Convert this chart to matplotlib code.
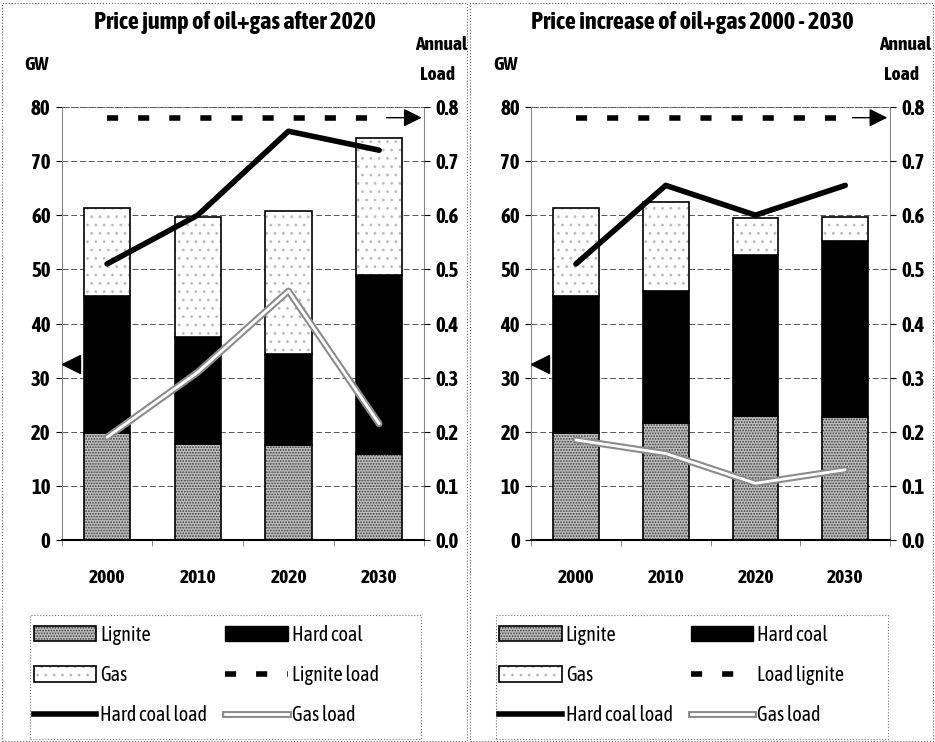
import matplotlib
matplotlib.use("Agg")
import matplotlib.pyplot as plt
import matplotlib.patheffects as pe
from matplotlib import font_manager
from matplotlib.patches import Rectangle, Patch
from matplotlib.lines import Line2D
import numpy as np

# narrow font with a bold face if one is around, else Liberation Sans
fl = font_manager.fontManager.ttflist
narrow = sorted({f.name for f in fl
                 if ('Narrow' in f.name or 'Condensed' in f.name)
                 and 'Mono' not in f.name and 'Serif' not in f.name
                 and any(g.name == f.name and g.weight in (600, 700, 'bold', 'semibold') for g in fl)})
plt.rcParams['font.family'] = narrow[:1] + ['Liberation Sans', 'DejaVu Sans']
plt.rcParams['hatch.linewidth'] = 0.8

years = ['2000', '2010', '2020', '2030']

# left panel: price jump after 2020 (GW)
titleA = "Price jump of oil+gas after 2020"
ligniteA = [19.7, 17.8, 17.5, 16.0]
hardcoalA = [25.3, 19.7, 16.8, 33.0]
gasA = [16.3, 22.2, 26.5, 25.2]
lignite_loadA = [0.78, 0.78, 0.78, 0.78]
hardcoal_loadA = [0.51, 0.60, 0.755, 0.72]
gas_loadA = [0.19, 0.31, 0.46, 0.215]
legendA = ['Lignite', 'Hard coal', 'Gas', 'Lignite load', 'Hard coal load', 'Gas load']

# right panel: steady price increase
titleB = "Price increase of oil+gas 2000 - 2030"
ligniteB = [19.7, 21.6, 23.0, 22.7]
hardcoalB = [25.3, 24.4, 29.6, 32.6]
gasB = [16.3, 16.5, 6.9, 4.3]
lignite_loadB = [0.78, 0.78, 0.78, 0.78]
hardcoal_loadB = [0.51, 0.655, 0.60, 0.655]
gas_loadB = [0.185, 0.16, 0.105, 0.13]
legendB = ['Lignite', 'Hard coal', 'Gas', 'Load lignite', 'Hard coal load', 'Gas load']


def gasline_fx():
    return [pe.Stroke(linewidth=5, foreground='#8c8c8c'), pe.Normal()]


def panel(fig, rect, title, lig, hc, gas, l_load, h_load, g_load, labels, tx, ax_lbl_x, lg_rect):
    ax = fig.add_axes(rect)
    x = np.arange(len(years))
    w = 0.51
    top2 = np.array(lig) + np.array(hc)
    # lignite: grey stipple
    ax.bar(x, lig, w, color='#bdbdbd', edgecolor='#3a3a3a', hatch='......', lw=0, zorder=2)
    ax.bar(x, lig, w, fill=False, edgecolor='k', lw=1.2, zorder=2)
    # hard coal
    ax.bar(x, hc, w, bottom=lig, color='k', edgecolor='k', lw=1.2, zorder=2)
    # gas: white with sparse light dots
    ax.bar(x, gas, w, bottom=top2, color='white', edgecolor='#bcbcbc', hatch='..', lw=0, zorder=2)
    ax.bar(x, gas, w, bottom=top2, fill=False, edgecolor='k', lw=1.2, zorder=2)

    ax.set_xlim(-0.5, 3.5)
    ax.set_ylim(0, 80)
    ax.set_yticks(range(0, 81, 10))
    ax.set_xticks(x)
    ax.set_xticklabels(years, fontsize=14, fontweight='bold')
    ax.set_xticks(np.arange(-0.5, 4, 1), minor=True)
    ax.tick_params(axis='x', which='major', length=0, pad=21)
    ax.tick_params(axis='x', which='minor', length=4, color='#777')
    ax.tick_params(axis='y', labelsize=15, length=4, pad=4)
    for t in ax.get_yticklabels():
        t.set_fontweight('bold')
    ax.grid(axis='y', ls=(0, (6, 3)), color='#555', lw=0.7, zorder=0)
    ax.set_axisbelow(True)
    ax.spines['top'].set_linestyle(':')
    ax.spines['top'].set_color('#666')
    ax.spines['left'].set_color('#888')
    ax.spines['right'].set_color('#888')
    ax.spines['bottom'].set_linewidth(1.5)

    ax2 = ax.twinx()
    ax2.set_ylim(0, 0.8)
    ax2.set_yticks(np.arange(0, 0.81, 0.1))
    ax2.set_yticklabels(['%.1f' % v for v in np.arange(0, 0.81, 0.1)],
                        fontsize=15, fontweight='bold')
    ax2.tick_params(axis='y', length=4, pad=4)
    for s in ax2.spines.values():
        s.set_visible(False)
    ax2.plot(x, l_load, color='k', lw=4, ls=(0, (2, 3.6)), zorder=3)
    ax2.plot(x, h_load, color='k', lw=4, solid_capstyle='round', zorder=3)
    ax2.plot(x, g_load, color='white', lw=2, solid_capstyle='round', zorder=3,
             path_effects=gasline_fx())
    ax2.annotate('', xy=(3.5, l_load[-1]), xytext=(3.05, l_load[-1]),
                 arrowprops=dict(arrowstyle='-|>', color='k', lw=1, mutation_scale=28),
                 annotation_clip=False)
    ax.plot([-0.4], [32.5], marker='<', ms=13, color='k', clip_on=False, zorder=4)

    fig.text(tx, 0.97, title, ha='center', va='center', fontsize=17.5, fontweight='bold')
    fig.text(rect[0] - 0.04, 0.912, 'GW', fontsize=14, fontweight='bold', va='center')
    fig.text(ax_lbl_x, 0.94, 'Annual', fontsize=14, fontweight='bold', ha='center', va='center')
    fig.text(ax_lbl_x - 0.004, 0.899, 'Load', fontsize=14, fontweight='bold',
             ha='center', va='center')

    # legend box
    fig.patches.append(Rectangle(lg_rect[:2], lg_rect[2], lg_rect[3], transform=fig.transFigure,
                                 fill=False, ls=':', lw=0.8, ec='#777'))
    h_lig = (Patch(facecolor='#bdbdbd', edgecolor='#3a3a3a', hatch='......', lw=0),
             Patch(fill=False, edgecolor='k', lw=1.2))
    h_gas = (Patch(facecolor='white', edgecolor='#bcbcbc', hatch='..', lw=0),
             Patch(fill=False, edgecolor='k', lw=1.2))
    handles = [h_lig, h_gas,
               Line2D([], [], color='k', lw=4),
               Patch(facecolor='k', edgecolor='k'),
               Line2D([], [], color='k', lw=4, ls=(0, (2, 3.6))),
               Line2D([], [], color='white', lw=2, path_effects=gasline_fx())]
    names = [labels[0], labels[2], labels[4], labels[1], labels[3], labels[5]]
    fig.legend(handles, names, ncol=2, loc='upper left',
               bbox_to_anchor=(lg_rect[0] + 0.004, lg_rect[1] + lg_rect[3] - 0.013),
               fontsize=14.5, frameon=False, borderpad=0,
               handlelength=3.1, handleheight=0.8, handletextpad=0.2,
               columnspacing=0.9, labelspacing=1.0, borderaxespad=0)
    return ax


fig = plt.figure(figsize=(9.35, 7.42), dpi=100)

fig.patches.append(Rectangle((0.002, 0.002), 0.497, 0.994, transform=fig.transFigure,
                             fill=False, ls=':', lw=0.8, ec='#666'))
fig.patches.append(Rectangle((0.503, 0.002), 0.495, 0.994, transform=fig.transFigure,
                             fill=False, ls=':', lw=0.8, ec='#666'))

panel(fig, [0.066, 0.272, 0.388, 0.584], titleA, ligniteA, hardcoalA, gasA,
      lignite_loadA, hardcoal_loadA, gas_loadA, legendA, 0.251, 0.472,
      (0.032, 0.004, 0.418, 0.167))
panel(fig, [0.568, 0.272, 0.384, 0.584], titleB, ligniteB, hardcoalB, gasB,
      lignite_loadB, hardcoal_loadB, gas_loadB, legendB, 0.74, 0.968,
      (0.53, 0.004, 0.42, 0.167))

fig.savefig('out.png', dpi=100)
